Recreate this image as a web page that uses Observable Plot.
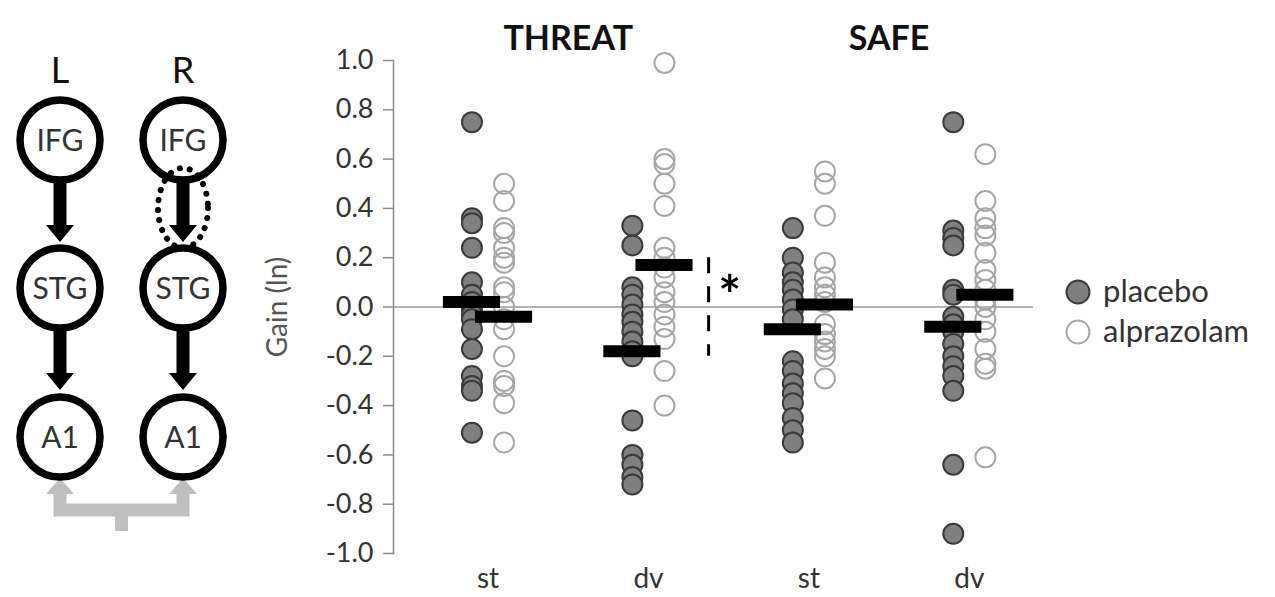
<!DOCTYPE html>
<html><head><meta charset="utf-8">
<script src="https://cdn.jsdelivr.net/npm/d3@7"></script>
<script src="https://cdn.jsdelivr.net/npm/@observablehq/plot@0.6"></script>
<style>
body{margin:0;background:#fff;}
#chart{width:1275px;height:597px;}
</style>
</head><body><div id="chart"></div>
<script>
// ---------- data ----------
const conditions = ["THREAT", "SAFE"];
const measures = ["st", "dv", "st", "dv"];
const seriesNames = ["placebo", "alprazolam"];

const threatStPlacebo    = [0.75, 0.36, 0.34, 0.24, 0.10, 0.05, 0.02, -0.01, -0.03, -0.05, -0.09, -0.17, -0.28, -0.32, -0.34, -0.51];
const threatStAlprazolam = [0.50, 0.43, 0.32, 0.30, 0.24, 0.20, 0.18, 0.08, 0.06, 0.00, -0.05, -0.09, -0.20, -0.30, -0.32, -0.39, -0.55];
const threatDvPlacebo    = [0.33, 0.25, 0.08, 0.05, 0.01, -0.03, -0.06, -0.10, -0.14, -0.18, -0.20, -0.46, -0.60, -0.64, -0.69, -0.72];
const threatDvAlprazolam = [0.99, 0.60, 0.58, 0.50, 0.41, 0.24, 0.20, 0.16, 0.12, 0.06, 0.02, -0.03, -0.08, -0.13, -0.26, -0.40];
const safeStPlacebo      = [0.32, 0.20, 0.14, 0.10, 0.07, 0.03, -0.01, -0.05, -0.22, -0.26, -0.31, -0.35, -0.39, -0.45, -0.50, -0.55];
const safeStAlprazolam   = [0.55, 0.50, 0.37, 0.18, 0.12, 0.08, 0.05, 0.02, -0.07, -0.11, -0.14, -0.17, -0.20, -0.29];
const safeDvPlacebo      = [0.75, 0.31, 0.28, 0.25, 0.07, 0.05, -0.04, -0.07, -0.10, -0.15, -0.20, -0.24, -0.28, -0.34, -0.64, -0.92];
const safeDvAlprazolam   = [0.62, 0.43, 0.36, 0.32, 0.29, 0.22, 0.15, 0.11, 0.07, 0.03, 0.00, -0.05, -0.10, -0.17, -0.23, -0.25, -0.61];

const meansPlacebo    = [0.02, -0.18, -0.09, -0.08];
const meansAlprazolam = [-0.04, 0.17, 0.01, 0.05];

const yTicks = [-1.0, -0.8, -0.6, -0.4, -0.2, 0.0, 0.2, 0.4, 0.6, 0.8, 1.0];
const significance = [{cat: 1, hi: 0.2, lo: -0.2, label: "*"}];

const regionRows = ["IFG", "STG", "A1"];
const hemispheres = ["L", "R"];

// ---------- build tables ----------
const placeboByCat = [threatStPlacebo, threatDvPlacebo, safeStPlacebo, safeDvPlacebo];
const alprazByCat  = [threatStAlprazolam, threatDvAlprazolam, safeStAlprazolam, safeDvAlprazolam];
const OFF = 0.1;
const pts = [];
placeboByCat.forEach((arr, i) => arr.forEach(v => pts.push({x: i - OFF, y: v, s: "placebo"})));
alprazByCat.forEach((arr, i) => arr.forEach(v => pts.push({x: i + OFF, y: v, s: "alprazolam"})));
const means = [];
meansPlacebo.forEach((v, i) => means.push({x: i - OFF, y: v}));
meansAlprazolam.forEach((v, i) => means.push({x: i + OFF, y: v}));

const FONT = "Lato, 'Open Sans', sans-serif";
const BAR = 0.178;

const svg = Plot.plot({
  width: 1275, height: 597,
  marginLeft: 393, marginRight: 242, marginTop: 60, marginBottom: 44,
  x: {domain: [-0.589, 3.40], axis: null},
  y: {domain: [-1, 1], axis: null},
  style: {fontFamily: FONT, background: "white", overflow: "visible"},
  marks: [
    Plot.ruleY([0], {stroke: "#9a9a9a", strokeWidth: 1.5}),
    Plot.frame({anchor: "left", stroke: "#8c8c8c", strokeWidth: 1.5}),
    Plot.axisY({ticks: yTicks, tickFormat: d => d.toFixed(1), tickSize: 10, tickPadding: 10,
      fontSize: 27, stroke: "#8c8c8c", strokeWidth: 1.5, fill: "#333", label: null}),
    Plot.axisX({ticks: [0, 1, 2, 3], tickFormat: i => measures[i], tickSize: 0, tickPadding: 15,
      fontSize: 28, fill: "#333", label: null}),
    Plot.text(["Gain (ln)"], {frameAnchor: "left", textAnchor: "middle", dx: -115, rotate: -90,
      fontSize: 28, fill: "#555"}),
    Plot.text(conditions, {x: (d, i) => i * 2 + 0.5, frameAnchor: "top", textAnchor: "middle", dy: -35,
      fontSize: 34, fontWeight: "bold", fill: "#111"}),
    Plot.dot(pts.filter(d => d.s === "placebo"), {x: "x", y: "y", r: 10, fill: "#7f7f7f", stroke: "#3a3a3a", strokeWidth: 2}),
    Plot.dot(pts.filter(d => d.s === "alprazolam"), {x: "x", y: "y", r: 10, fill: "none", stroke: "#a6a6a6", strokeWidth: 2}),
    Plot.ruleY(means, {y: "y", x1: d => d.x - BAR, x2: d => d.x + BAR, stroke: "black", strokeWidth: 12}),
    Plot.ruleX(significance, {x: d => d.cat + 0.375, y1: "hi", y2: "lo", stroke: "black", strokeWidth: 3, strokeDasharray: "16,13"}),
    Plot.text(significance, {x: d => d.cat + 0.375, y: d => (d.hi + d.lo) / 2, text: "label", dx: 21, dy: -10,
      fontSize: 54, fontWeight: "bold", fill: "black"})
  ]
});
document.getElementById("chart").appendChild(svg);

// ---------- legend ----------
const root = d3.select(svg);
const leg = root.append("g").attr("font-family", FONT).attr("text-anchor", "start");
seriesNames.forEach((name, i) => {
  const y = 292 + i * 40;
  leg.append("circle").attr("cx", 1078).attr("cy", y).attr("r", 11.5)
    .attr("fill", i === 0 ? "#7f7f7f" : "white")
    .attr("stroke", i === 0 ? "#3a3a3a" : "#a6a6a6").attr("stroke-width", 2);
  leg.append("text").attr("x", 1103).attr("y", y).attr("dy", "0.33em")
    .attr("font-size", 31).attr("fill", "#333").attr("text-anchor", "start").text(name);
});

// ---------- network diagram ----------
const dg = root.append("g").attr("font-family", FONT);
const colX = [60, 183];
const rowY = [140, 288, 437];
const R = 40;
// grey connector
const grey = "#bfbfbf";
dg.append("path").attr("d", `M${colX[0]},492 V510 H${colX[1]} V492 M${(colX[0]+colX[1])/2},510 V531`)
  .attr("fill", "none").attr("stroke", grey).attr("stroke-width", 13);
colX.forEach(x => {
  dg.append("path").attr("d", `M${x-14},494 L${x+14},494 L${x},478 Z`).attr("fill", grey);
});
// black arrows
function arrow(x, y0, y1) {
  const sw = 6.5, hw = 14, hl = 17;
  return `M${x-sw},${y0} L${x+sw},${y0} L${x+sw},${y1-hl} L${x+hw},${y1-hl} L${x},${y1} L${x-hw},${y1-hl} L${x-sw},${y1-hl} Z`;
}
colX.forEach(x => {
  dg.append("path").attr("d", arrow(x, rowY[0] + R, rowY[1] - R - 6)).attr("fill", "black");
  dg.append("path").attr("d", arrow(x, rowY[1] + R, rowY[2] - R - 7)).attr("fill", "black");
});
// circles
colX.forEach(x => rowY.forEach((y, j) => {
  dg.append("circle").attr("cx", x).attr("cy", y).attr("r", R)
    .attr("fill", "white").attr("stroke", "black").attr("stroke-width", 7.5);
  dg.append("text").attr("x", x).attr("y", y).attr("dy", "0.36em").attr("text-anchor", "middle")
    .attr("font-size", 30).attr("fill", "#333").text(regionRows[j]);
}));
// dotted ellipse highlighting R IFG->STG
dg.append("ellipse").attr("cx", colX[1]).attr("cy", 208).attr("rx", 25).attr("ry", 40)
  .attr("fill", "none").attr("stroke", "black").attr("stroke-width", 6)
  .attr("stroke-linecap", "round").attr("stroke-dasharray", "0.1 10");
// hemisphere labels
hemispheres.forEach((h, i) => {
  dg.append("text").attr("x", colX[i]).attr("y", 70).attr("dy", "0.36em").attr("text-anchor", "middle")
    .attr("font-size", 36).attr("fill", "#111").text(h);
});
</script>
</body></html>
